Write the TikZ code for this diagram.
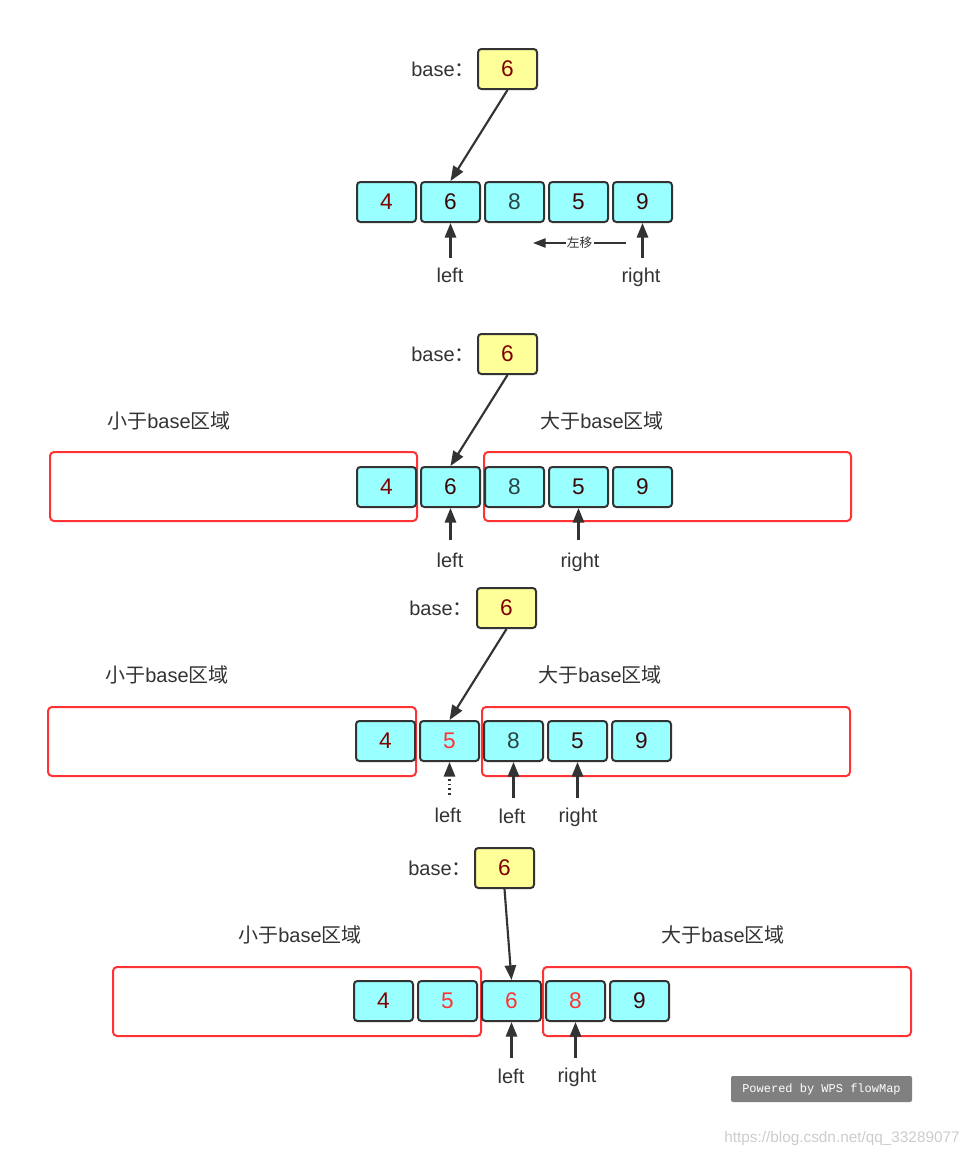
\documentclass[tikz,border=0pt]{standalone}
\usepackage{fontspec}
\setmainfont{Liberation Sans}
\newfontfamily\cjk{Noto Sans CJK SC}
\newfontfamily\wpsmono{Liberation Mono}
\usetikzlibrary{arrows.meta}
\definecolor{cellfill}{HTML}{99FFFF}
\definecolor{basefill}{HTML}{FFFF99}
\definecolor{edgec}{HTML}{333333}
\definecolor{regred}{HTML}{FF3333}
\definecolor{txtc}{HTML}{333333}
\definecolor{cfour}{HTML}{800000}
\definecolor{cdark}{HTML}{3A0A0A}
\definecolor{ceight}{HTML}{2A4545}
\definecolor{wmgray}{HTML}{808080}
\definecolor{csdn}{HTML}{CCCCCC}
\tikzset{
  cell/.style={draw=edgec, fill=cellfill, line width=1.5pt, rounded corners=2.5pt,
    minimum width=44.25pt, minimum height=30pt, inner sep=0pt,
    font=\fontsize{17}{17}\selectfont},
  basebox/.style={cell, fill=basefill, text=cfour},
  region/.style={draw=regred, line width=1.5pt, rounded corners=3pt},
  lbl/.style={text=txtc, font=\fontsize{15}{15}\selectfont, inner sep=0pt},
  ptr/.style={draw=edgec, line width=1.6pt, -{Triangle[length=11pt,width=8.5pt]}},
  shiftarr/.style={draw=edgec, line width=1.2pt, -{Triangle[length=9.5pt,width=7pt]}},
}
\begin{document}
\begin{tikzpicture}[x=0.75pt,y=-0.75pt]
\useasboundingbox (0,0) rectangle (973,1157);

% ---------------- Section 1 ----------------
\node[lbl, anchor=base west] (s1bl) at (411,76) {base{\cjk ：}};
\node[basebox] (s1b) at (507.5,69) {6};
\node[cell, text=cfour]  (s1c1) at (386.5,202) {4};
\node[cell, text=cdark]  (s1c2) at (450.5,202) {6};
\node[cell, text=ceight] (s1c3) at (514.5,202) {8};
\node[cell, text=cdark]  (s1c4) at (578.5,202) {5};
\node[cell, text=cdark]  (s1c5) at (642.5,202) {9};
\draw[ptr] (s1b.south) -- (s1c2.north);
\coordinate (s1lp) at (450.5,258);
\coordinate (s1rp) at (642.5,258);
\draw[ptr] (s1lp) -- (s1c2.south);
\draw[ptr] (s1rp) -- (s1c5.south);
\node[lbl, anchor=base] (s1lt) at (450,282) {left};
\node[lbl, anchor=base] (s1rt) at (641,282) {right};
\coordinate (s1ms) at (626,243);
\coordinate (s1me) at (533,243);
\draw[shiftarr] (s1ms) -- node[fill=white, inner sep=1pt, text=txtc,
  font=\cjk\fontsize{9.5}{9.5}\selectfont] (s1mv) {左移} (s1me);

% ---------------- Section 2 ----------------
\draw[region] (50,452) rectangle (417,521);
\draw[region] (484,452) rectangle (851,521);
\node[lbl, anchor=west] (s2lz) at (107,421) {{\cjk 小于}base{\cjk 区域}};
\node[lbl, anchor=west] (s2gz) at (540,421) {{\cjk 大于}base{\cjk 区域}};
\node[lbl, anchor=base west] (s2bl) at (411,361) {base{\cjk ：}};
\node[basebox] (s2b) at (507.5,354) {6};
\node[cell, text=cfour]  (s2c1) at (386.5,487) {4};
\node[cell, text=cdark]  (s2c2) at (450.5,487) {6};
\node[cell, text=ceight] (s2c3) at (514.5,487) {8};
\node[cell, text=cdark]  (s2c4) at (578.5,487) {5};
\node[cell, text=cdark]  (s2c5) at (642.5,487) {9};
\draw[ptr] (s2b.south) -- (s2c2.north);
\coordinate (s2lp) at (450.5,540);
\coordinate (s2rp) at (578.5,540);
\draw[ptr] (s2lp) -- (s2c2.south);
\draw[ptr] (s2rp) -- (s2c4.south);
\node[lbl, anchor=base] (s2lt) at (450,567) {left};
\node[lbl, anchor=base] (s2rt) at (580,567) {right};

% ---------------- Section 3 ----------------
\draw[region] (48,707) rectangle (416,776);
\draw[region] (482,707) rectangle (850,776);
\node[lbl, anchor=west] (s3lz) at (105,675) {{\cjk 小于}base{\cjk 区域}};
\node[lbl, anchor=west] (s3gz) at (538,675) {{\cjk 大于}base{\cjk 区域}};
\node[lbl, anchor=base west] (s3bl) at (409,615) {base{\cjk ：}};
\node[basebox] (s3b) at (506.5,608) {6};
\node[cell, text=cfour]  (s3c1) at (385.5,741) {4};
\node[cell, text=regred] (s3c2) at (449.5,741) {5};
\node[cell, text=ceight] (s3c3) at (513.5,741) {8};
\node[cell, text=cdark]  (s3c4) at (577.5,741) {5};
\node[cell, text=cdark]  (s3c5) at (641.5,741) {9};
\draw[ptr] (s3b.south) -- (s3c2.north);
\coordinate (s3dp) at (449.5,795);
\coordinate (s3lp) at (513.5,798);
\coordinate (s3rp) at (577.5,798);
\draw[ptr, dash pattern=on 1.4pt off 2.2pt] (s3dp) -- (s3c2.south);
\draw[ptr] (s3lp) -- (s3c3.south);
\draw[ptr] (s3rp) -- (s3c4.south);
\node[lbl, anchor=base] (s3dt) at (448,822) {left};
\node[lbl, anchor=base] (s3lt) at (512,823) {left};
\node[lbl, anchor=base] (s3rt) at (578,822) {right};

% ---------------- Section 4 ----------------
\draw[region] (113,967) rectangle (481,1036);
\draw[region] (543,967) rectangle (911,1036);
\node[lbl, anchor=west] (s4lz) at (238,935) {{\cjk 小于}base{\cjk 区域}};
\node[lbl, anchor=west] (s4gz) at (661,935) {{\cjk 大于}base{\cjk 区域}};
\node[lbl, anchor=base west] (s4bl) at (408,875) {base{\cjk ：}};
\node[basebox] (s4b) at (504.5,868) {6};
\node[cell, text=cfour]  (s4c1) at (383.5,1001) {4};
\node[cell, text=regred] (s4c2) at (447.5,1001) {5};
\node[cell, text=regred] (s4c3) at (511.5,1001) {6};
\node[cell, text=regred] (s4c4) at (575.5,1001) {8};
\node[cell, text=cdark]  (s4c5) at (639.5,1001) {9};
\draw[ptr] (s4b.south) -- (s4c3.north);
\coordinate (s4lp) at (511.5,1058);
\coordinate (s4rp) at (575.5,1058);
\draw[ptr] (s4lp) -- (s4c3.south);
\draw[ptr] (s4rp) -- (s4c4.south);
\node[lbl, anchor=base] (s4lt) at (511,1083) {left};
\node[lbl, anchor=base] (s4rt) at (577,1082) {right};

% ---------------- Watermarks ----------------
\node[fill=wmgray, rounded corners=1.5pt, minimum width=135.75pt, minimum height=19.5pt,
  inner sep=0pt, text=white, font=\wpsmono\fontsize{9}{9}\selectfont] (wps) at (821.5,1089)
  {Powered by WPS flowMap};
\node[text=csdn, inner sep=0pt, font=\fontsize{11.5}{11.5}\selectfont] (csdnwm) at (842,1139)
  {https://blog.csdn.net/qq\_33289077};
\end{tikzpicture}
\end{document}
